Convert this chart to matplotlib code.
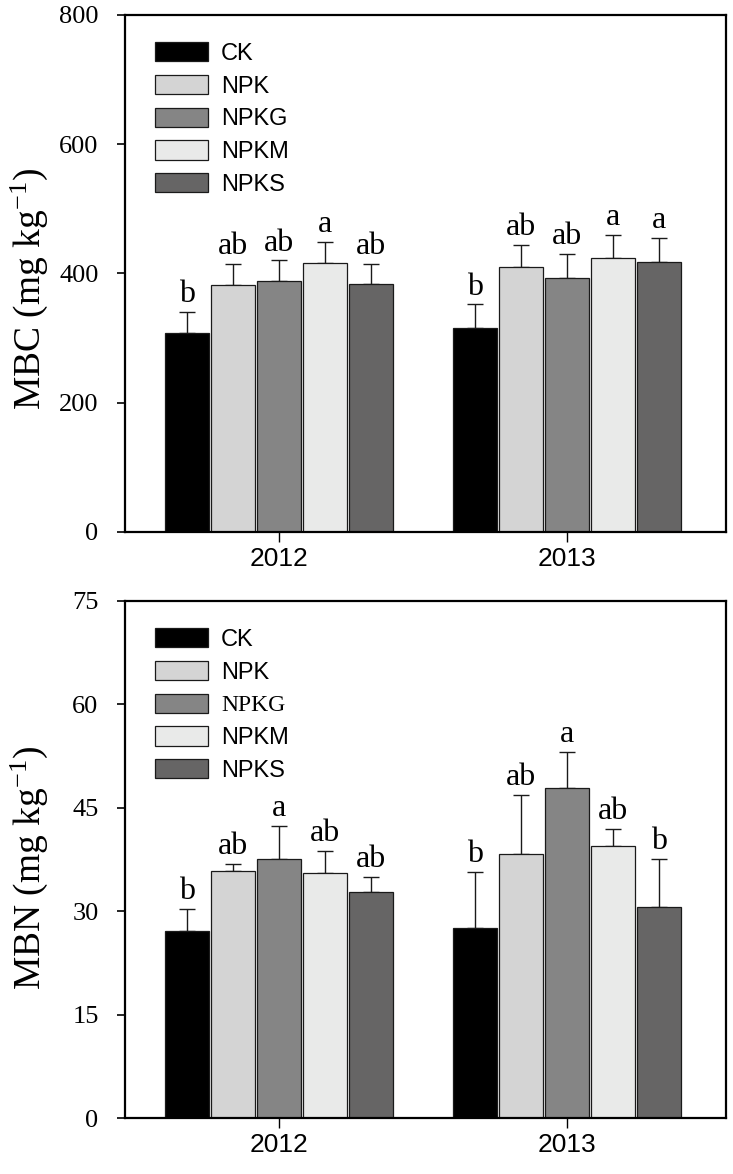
import numpy as np
import matplotlib
matplotlib.use("Agg")
import matplotlib.pyplot as plt

plt.rcParams['mathtext.fontset'] = 'custom'
plt.rcParams['mathtext.rm'] = 'Liberation Serif'
plt.rcParams['mathtext.it'] = 'Liberation Serif:italic'

years = ['2012', '2013']
treatments = ['CK', 'NPK', 'NPKG', 'NPKM', 'NPKS']
colors = ['#000000', '#d4d4d4', '#858585', '#e9eae9', '#666565']

# MBC (mg/kg), rows = treatments, cols = years
mbc = [[308, 316], [382, 409], [388, 393], [416, 424], [384, 418]]
mbc_err = [[32, 36], [32, 35], [32, 37], [33, 36], [31, 37]]
mbc_letters = [['b', 'b'], ['ab', 'ab'], ['ab', 'ab'], ['a', 'a'], ['ab', 'a']]

# MBN (mg/kg)
mbn = [[27.1, 27.5], [35.8, 38.3], [37.6, 47.8], [35.5, 39.4], [32.7, 30.6]]
mbn_err = [[3.2, 8.2], [1.1, 8.5], [4.7, 5.3], [3.2, 2.5], [2.3, 7.0]]
mbn_letters = [['b', 'b'], ['ab', 'ab'], ['a', 'a'], ['ab', 'ab'], ['ab', 'b']]

fig = plt.figure(figsize=(7.33, 11.74), dpi=100)
ax1 = fig.add_axes([0.1705, 0.547, 0.82, 0.4404])
ax2 = fig.add_axes([0.1705, 0.0477, 0.82, 0.4406])


def draw_panel(ax, vals, errs, letters, ymax, yticks, ylabel, label_y, serif_idx=None):
    x = np.arange(len(years))
    step = 0.16
    width = 0.152
    for i, name in enumerate(treatments):
        pos = x + (i - 2) * step
        ax.bar(pos, vals[i], width, color=colors[i], edgecolor='#1a1a1a',
               linewidth=0.9, label=name, zorder=2)
        ax.errorbar(pos, vals[i], yerr=[np.zeros(len(years)), errs[i]], fmt='none',
                    ecolor='#1a1a1a', elinewidth=1.0, capsize=5.5, capthick=1.0, zorder=1)
        for j in range(len(years)):
            ax.annotate(letters[i][j], (pos[j], vals[i][j] + errs[i][j]),
                        xytext=(0, 2), textcoords='offset points', ha='center',
                        va='bottom', fontfamily='Liberation Serif', fontsize=23)
    ax.set_xlim(-0.535, 1.552)
    ax.set_ylim(0, ymax)
    ax.set_xticks(x)
    ax.set_xticklabels(years, fontfamily='Liberation Sans', fontsize=19)
    ax.set_yticks(yticks)
    ax.set_yticklabels([str(t) for t in yticks], fontfamily='Liberation Serif', fontsize=19)
    ax.tick_params(axis='y', direction='out', length=6, width=1.2, pad=13)
    ax.tick_params(axis='x', direction='out', length=7, width=1.0, pad=4)
    for s in ax.spines.values():
        s.set_linewidth(1.6)
    ax.set_ylabel(ylabel, fontfamily='Liberation Serif', fontsize=27)
    ax.yaxis.set_label_coords(-0.125, label_y)
    leg = ax.legend(loc='upper left', bbox_to_anchor=(0.05, 0.947), frameon=False,
                    prop={'family': 'Liberation Sans', 'size': 17},
                    handlelength=2.25, handleheight=0.88, labelspacing=0.42,
                    handletextpad=0.55, borderpad=0, borderaxespad=0)
    if serif_idx is not None:
        leg.get_texts()[serif_idx].set_fontfamily('Liberation Serif')
    return leg


draw_panel(ax1, mbc, mbc_err, mbc_letters, 800, [0, 200, 400, 600, 800],
           'MBC (mg kg$^{-1}$)', 0.47)
draw_panel(ax2, mbn, mbn_err, mbn_letters, 75, [0, 15, 30, 45, 60, 75],
           'MBN (mg kg$^{-1}$)', 0.483, serif_idx=2)

fig.savefig('out.png', dpi=100)
